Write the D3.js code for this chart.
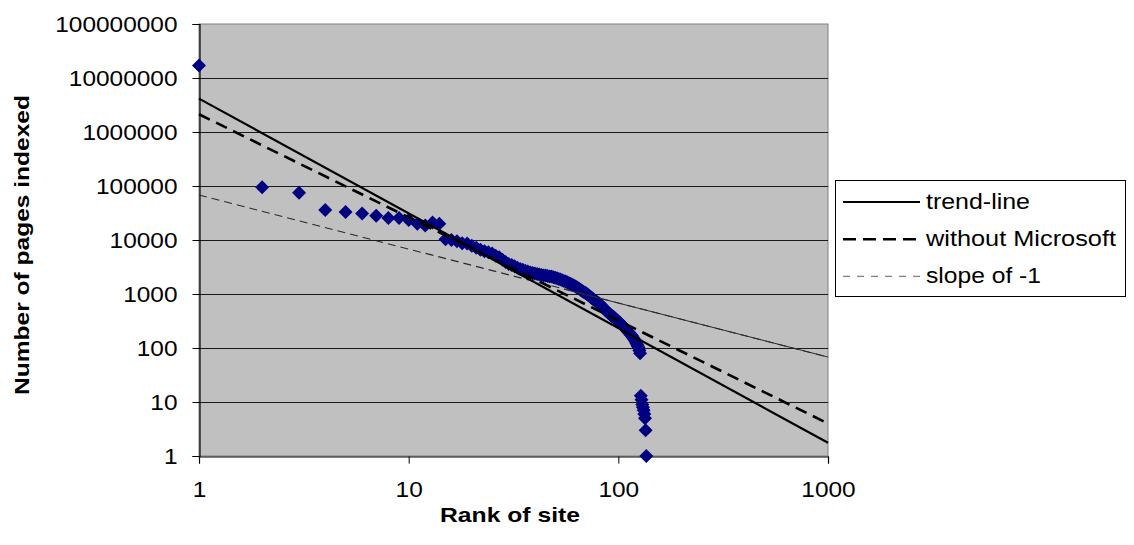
<!DOCTYPE html>
<html>
<head>
<meta charset="utf-8">
<script src="https://cdn.jsdelivr.net/npm/d3@7"></script>
<style>
  html, body { margin: 0; padding: 0; background: #fff; }
  svg { display: block; }
  text { font-family: "Liberation Sans", Arial, sans-serif; fill: #000; }
</style>
</head>
<body>
<svg id="chart" width="1134" height="545"></svg>
<script>
// ---------- data ----------
const ranks = d3.range(1, 137); // 1..136
const pages = [
  17000000, 95000, 75000, 36000, 33000, 31000, 28000, 25500, 25500, 23500,
  20000, 18500, 21000, 20000, 10300, 10000, 9500, 8700, 8600, 7800,
  7200, 6600, 6200, 5900, 5600, 5100, 4800, 4300, 3900, 3600,
  3450, 3250, 3050, 2900, 2800, 2700, 2600, 2500, 2450, 2400,
  2350, 2300, 2250, 2200, 2200, 2150, 2100, 2100, 2050, 2000,
  1950, 1900, 1850, 1800, 1750, 1700, 1650, 1600, 1550, 1500,
  1450, 1400, 1350, 1300, 1250, 1200, 1150, 1100, 1070, 1040,
  990, 950, 910, 870, 830, 800, 770, 740, 710, 690,
  670, 640, 610, 580, 550, 520, 500, 480, 460, 440,
  425, 410, 395, 385, 375, 360, 345, 330, 320, 310,
  300, 290, 280, 270, 260, 250, 240, 230, 220, 212,
  205, 198, 190, 182, 175, 168, 160, 152, 145, 138,
  130, 122, 115, 108, 100, 90, 80, 13, 11, 9,
  8, 7, 6, 5, 3, 1
];
// trend lines: [rank, pages] endpoints
const trendLine      = [[1, 4150000], [1000, 1.76]];
const withoutMsLine  = [[1, 2130000], [1000, 4.0]];
const slopeLine      = [[1, 68000],   [1000, 68]];
const xTicks = [1, 10, 100, 1000];
const yTicks = [1, 10, 100, 1000, 10000, 100000, 1000000, 10000000, 100000000];
const legendLabels = ["trend-line", "without Microsoft", "slope of -1"];

// ---------- layout ----------
const L = 199, R = 828, T = 24, B = 456;
const svg = d3.select("#chart");
const x = d3.scaleLog().domain([1, 1000]).range([L, R]);
const y = d3.scaleLog().domain([1, 1e8]).range([B, T]);

// plot background
svg.append("rect").attr("x", L).attr("y", T).attr("width", R - L).attr("height", B - T)
  .attr("fill", "#c0c0c0").attr("stroke", "#808080").attr("stroke-width", 1);

// gridlines
svg.append("g").selectAll("line").data(yTicks.filter(v => v > 1 && v < 1e8)).join("line")
  .attr("x1", L).attr("x2", R)
  .attr("y1", d => Math.round(y(d)) + 0.5).attr("y2", d => Math.round(y(d)) + 0.5)
  .attr("stroke", "#1a1a1a").attr("stroke-width", 1);

// axes
const yAxis = d3.axisLeft(y).tickValues(yTicks).tickFormat(d3.format("d")).tickSize(7).tickPadding(15);
const xAxis = d3.axisBottom(x).tickValues(xTicks).tickFormat(d3.format("d")).tickSize(7).tickPadding(18);

const gy = svg.append("g").attr("transform", `translate(${L + 0.5},0)`).call(yAxis);
const gx = svg.append("g").attr("transform", `translate(0,${B + 0.5})`).call(xAxis);
[gy, gx].forEach(g => {
  g.select(".domain").attr("stroke", "#000").attr("stroke-width", 1.2);
  g.selectAll(".tick line").attr("stroke", "#000");
  g.selectAll(".tick text").attr("font-size", 22).attr("fill", "#000")
    .attr("font-family", "Liberation Sans, Arial, sans-serif");
});
gy.selectAll(".tick text").attr("dy", "0.36em");
gx.selectAll(".tick text").attr("dy", "0.72em");
svg.selectAll(".tick text").each(function () {
  const w = this.getComputedTextLength();
  d3.select(this).attr("textLength", w * 1.11).attr("lengthAdjust", "spacingAndGlyphs");
});

// markers
const pts = ranks.map((r, i) => [r, pages[i]]);
svg.append("g").selectAll("path").data(pts).join("path")
  .attr("transform", d => `translate(${x(d[0])},${y(d[1])})`)
  .attr("d", "M0,-7L7,0L0,7L-7,0Z")
  .attr("fill", "#000080");

// lines
const line = d3.line().x(d => x(d[0])).y(d => y(d[1]));
svg.append("defs").append("clipPath").attr("id", "rightPart")
  .append("rect").attr("x", x(55)).attr("y", T).attr("width", R - x(55)).attr("height", B - T);

svg.append("path").datum(slopeLine).attr("d", line)
  .attr("fill", "none").attr("stroke", "#2a2a2a").attr("stroke-width", 1.1)
  .attr("stroke-dasharray", "8,5");
svg.append("path").datum(slopeLine).attr("d", line).attr("clip-path", "url(#rightPart)")
  .attr("fill", "none").attr("stroke", "#2a2a2a").attr("stroke-width", 1);

svg.append("path").datum(withoutMsLine).attr("d", line)
  .attr("fill", "none").attr("stroke", "#000").attr("stroke-width", 2.6)
  .attr("stroke-dasharray", "12,7");
svg.append("path").datum(trendLine).attr("d", line)
  .attr("fill", "none").attr("stroke", "#000").attr("stroke-width", 2.2);

// axis titles
svg.append("text").attr("x", 510).attr("y", 522).attr("text-anchor", "middle")
  .attr("font-size", 21).attr("font-weight", "bold")
  .attr("textLength", 140).attr("lengthAdjust", "spacingAndGlyphs")
  .text("Rank of site");
svg.append("text").attr("transform", "translate(29,245) rotate(-90)").attr("text-anchor", "middle")
  .attr("font-size", 21).attr("font-weight", "bold")
  .attr("textLength", 300).attr("lengthAdjust", "spacingAndGlyphs")
  .text("Number of pages indexed");

// legend
const lg = svg.append("g");
lg.append("rect").attr("x", 835.5).attr("y", 180.5).attr("width", 290).attr("height", 116)
  .attr("fill", "#fff").attr("stroke", "#000").attr("stroke-width", 1);
const legStyles = [
  { stroke: "#000", width: 2, dash: null },
  { stroke: "#000", width: 2.6, dash: "13,7" },
  { stroke: "#808080", width: 1.2, dash: "7,7" }
];
const legWidths = [104, 190, 115];
legendLabels.forEach((lab, i) => {
  const cy = 202 + i * 37.2;
  const s = legStyles[i];
  const ln = lg.append("line").attr("x1", 843).attr("x2", 920).attr("y1", cy).attr("y2", cy)
    .attr("stroke", s.stroke).attr("stroke-width", s.width);
  if (s.dash) ln.attr("stroke-dasharray", s.dash);
  lg.append("text").attr("x", 926).attr("y", cy + 7).attr("font-size", 22)
    .attr("textLength", legWidths[i]).attr("lengthAdjust", "spacingAndGlyphs")
    .text(lab);
});
</script>
</body>
</html>
